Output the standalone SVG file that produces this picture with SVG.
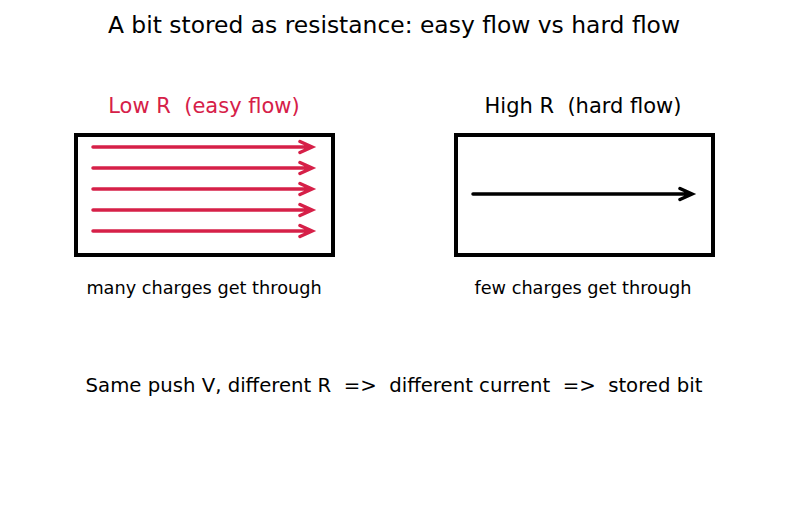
<svg xmlns="http://www.w3.org/2000/svg" width="787" height="510" viewBox="0 0 787 510">
<style>
text{font-family:"DejaVu Sans",sans-serif;text-anchor:middle;white-space:pre}
.box{fill:none;stroke:#000;stroke-width:4}
.r{stroke:#d62048;stroke-width:3.5;fill:none;stroke-linecap:round;stroke-linejoin:miter}
.k{stroke:#000;stroke-width:3.5;fill:none;stroke-linecap:round;stroke-linejoin:miter}
</style>
<rect width="787" height="510" fill="#fff"/>
<text x="394" y="33" font-size="23.4">A bit stored as resistance: easy flow vs hard flow</text>
<g id="low">
<text x="204" y="113" font-size="21" fill="#d62048" xml:space="preserve">Low R  (easy flow)</text>
<rect class="box" x="76" y="135" width="257" height="120"/>
<text x="204" y="294" font-size="17.7">many charges get through</text>
</g>
<g id="high">
<text x="583" y="113" font-size="21" xml:space="preserve">High R  (hard flow)</text>
<rect class="box" x="456" y="135" width="257" height="120"/>
<text x="583" y="294" font-size="17.7">few charges get through</text>
</g>
<g id="connectors">
<g class="r">
<path d="M93 147H312M300 141.5L312 147L300 152.5"/>
<path d="M93 168H312M300 162.5L312 168L300 173.5"/>
<path d="M93 189H312M300 183.5L312 189L300 194.5"/>
<path d="M93 210H312M300 204.5L312 210L300 215.5"/>
<path d="M93 231H312M300 225.5L312 231L300 236.5"/>
</g>
<path class="k" d="M473 194H692M680 188.5L692 194L680 199.5"/>
</g>
<text x="394" y="392" font-size="19.7" xml:space="preserve">Same push V, different R  =&gt;  different current  =&gt;  stored bit</text>
</svg>
